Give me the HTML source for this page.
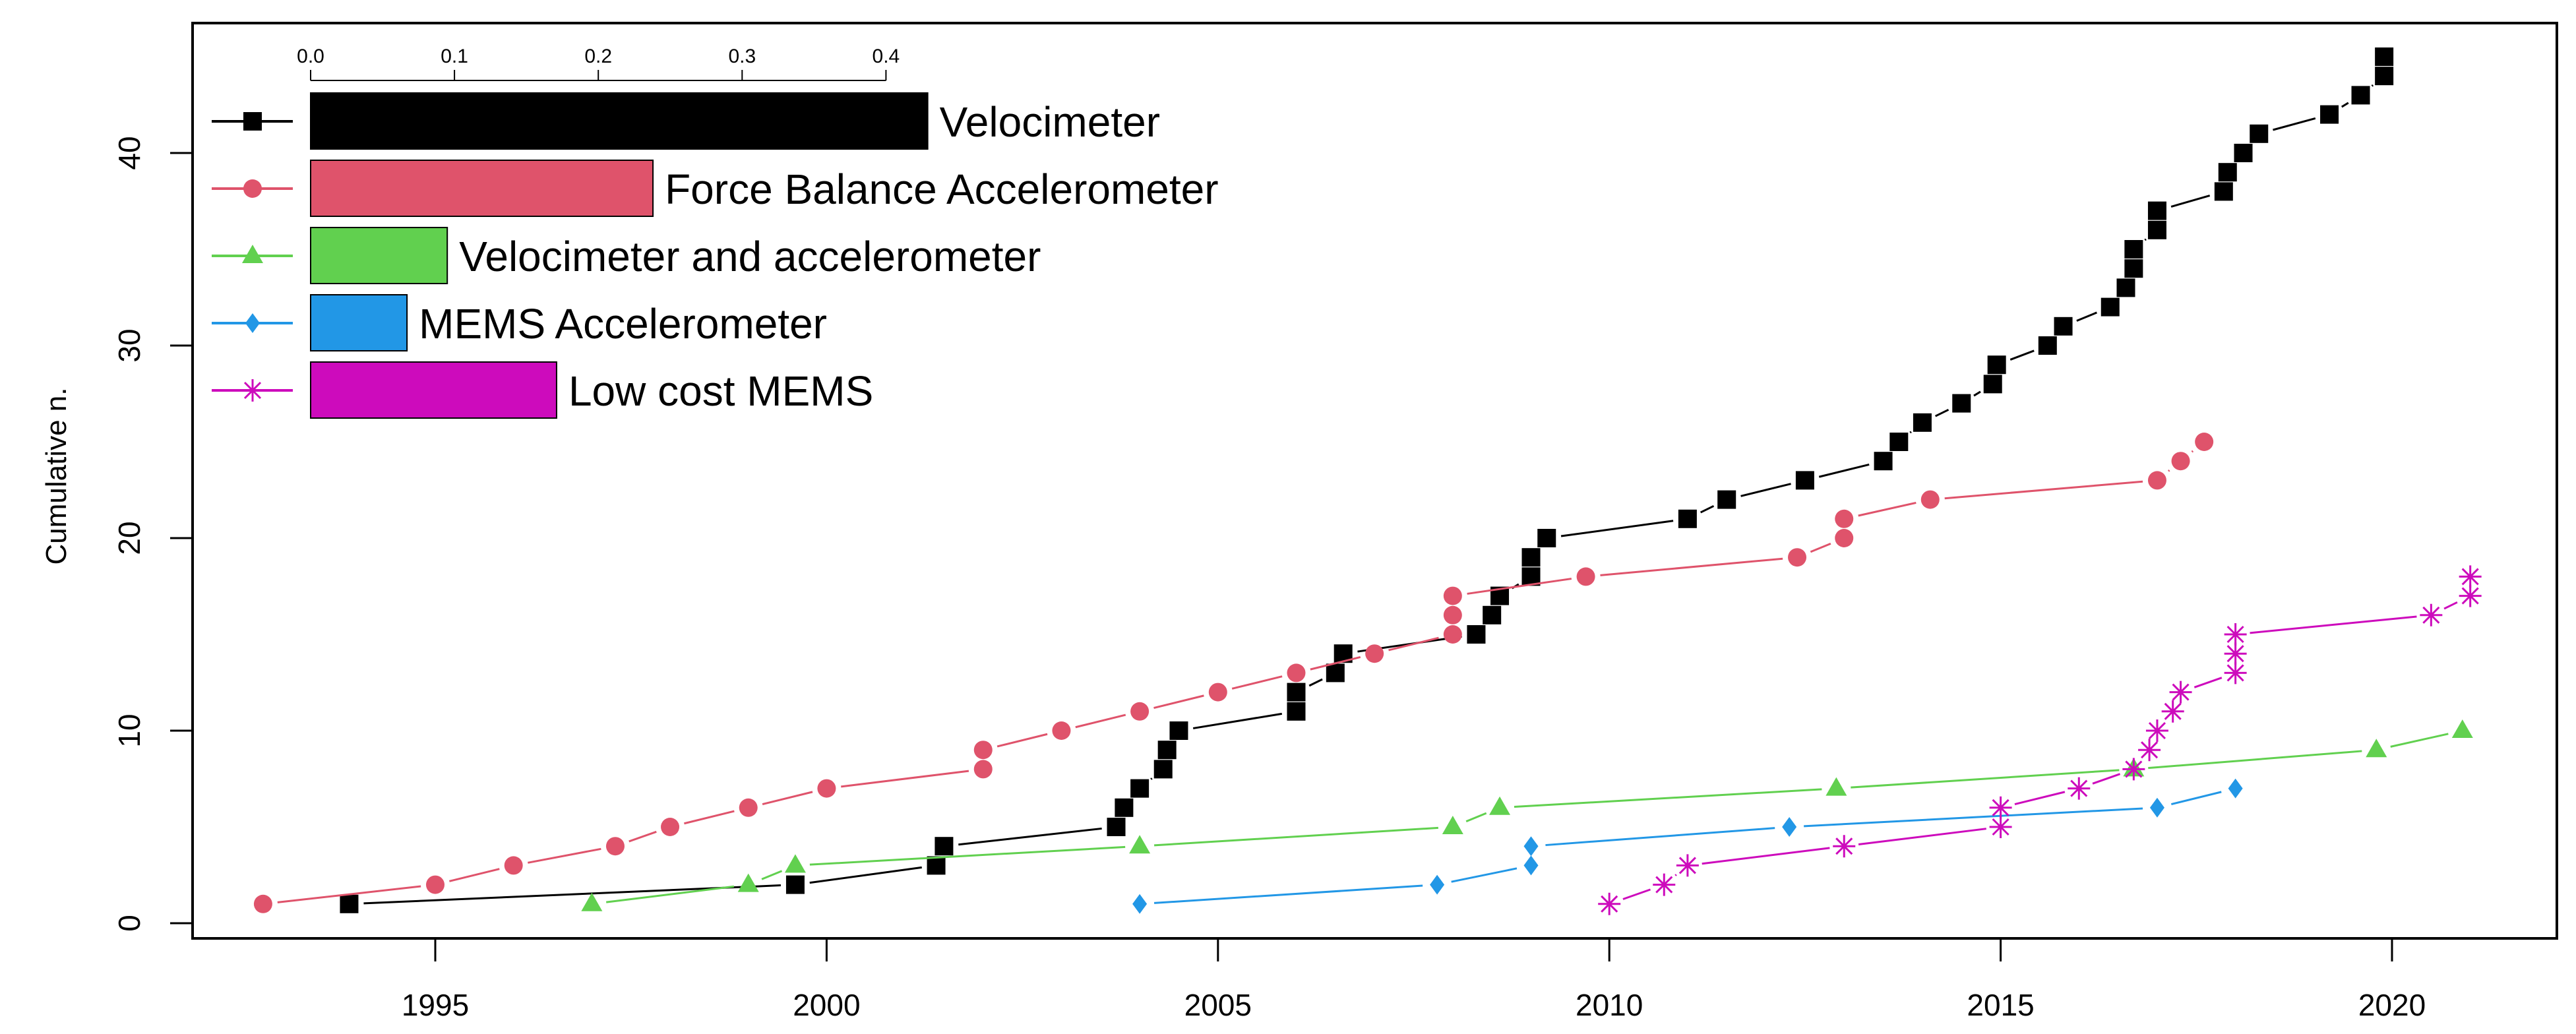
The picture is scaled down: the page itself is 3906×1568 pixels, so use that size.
<!DOCTYPE html>
<html><head><meta charset="utf-8"><style>html,body{margin:0;padding:0;background:#fff}svg{display:block}text{font-family:"Liberation Sans",sans-serif}</style></head>
<body>
<svg id="chart" width="3906" height="1568" viewBox="0 0 3906 1568" xmlns="http://www.w3.org/2000/svg">
<rect x="0" y="0" width="3906" height="1568" fill="#fff"/>
<g id="plot"></g>
<rect x="292" y="35" width="3585" height="1388" fill="none" stroke="#000" stroke-width="4"/>
<text x="0" y="0" font-size="44" text-anchor="middle" transform="translate(100,722) rotate(-90)">Cumulative n.</text>
</svg>
<script>
const xTicks = [1995, 2000, 2005, 2010, 2015, 2020];
const yTicks = [0, 10, 20, 30, 40];
const seriesNames = ["Velocimeter","Force Balance Accelerometer","Velocimeter and accelerometer","MEMS Accelerometer","Low cost MEMS"];
const shareValues = [0.429, 0.238, 0.095, 0.067, 0.171];
const shareTicks = [0.0, 0.1, 0.2, 0.3, 0.4];
const velYears = [1993.9,1999.6,2001.4,2001.5,2003.7,2003.8,2004.0,2004.3,2004.35,2004.5,2006.0,2006.0,2006.5,2006.6,2008.3,2008.5,2008.6,2009.0,2009.0,2009.2,2011.0,2011.5,2012.5,2013.5,2013.7,2014.0,2014.5,2014.9,2014.95,2015.6,2015.8,2016.4,2016.6,2016.7,2016.7,2017.0,2017.0,2017.85,2017.9,2018.1,2018.3,2019.2,2019.6,2019.9,2019.9];
const velCounts = [1,2,3,4,5,6,7,8,9,10,11,12,13,14,15,16,17,18,19,20,21,22,23,24,25,26,27,28,29,30,31,32,33,34,35,36,37,38,39,40,41,42,43,44,45];
const fbaYears = [1992.8,1995.0,1996.0,1997.3,1998.0,1999.0,2000.0,2002.0,2002.0,2003.0,2004.0,2005.0,2006.0,2007.0,2008.0,2008.0,2008.0,2009.7,2012.4,2013.0,2013.0,2014.1,2017.0,2017.3,2017.6];
const fbaCounts = [1,2,3,4,5,6,7,8,9,10,11,12,13,14,15,16,17,18,19,20,21,22,23,24,25];
const vaYears = [1997.0,1999.0,1999.6,2004.0,2008.0,2008.6,2012.9,2016.7,2019.8,2020.9];
const vaCounts = [1,2,3,4,5,6,7,8,9,10];
const memsYears = [2004.0,2007.8,2009.0,2009.0,2012.3,2017.0,2018.0];
const memsCounts = [1,2,3,4,5,6,7];
const lcYears = [2010.0,2010.7,2011.0,2013.0,2015.0,2015.0,2016.0,2016.7,2016.9,2017.0,2017.2,2017.3,2018.0,2018.0,2018.0,2020.5,2021.0,2021.0];
const lcCounts = [1,2,3,4,5,6,7,8,9,10,11,12,13,14,15,16,17,18];

const colors = ["#000000","#DF536B","#61D04F","#2297E6","#CD0BBC"];
const NS = "http://www.w3.org/2000/svg";
const svg = document.getElementById("chart");
const g = document.getElementById("plot");
const xS = y => 660 + (y - 1995) * 118.68;
const yS = v => 1400 - v * 29.2;
const shS = v => 471 + v * 2181;
function mk(tag, attrs, parent) { const e = document.createElementNS(NS, tag); for (const k in attrs) e.setAttribute(k, attrs[k]); (parent || g).appendChild(e); return e; }

xTicks.forEach(t => {
  const l = mk("line", {x1: xS(t), x2: xS(t), y1: 1423, y2: 1458, stroke: "#000", "stroke-width": 3});
  
  
  const tx = mk("text", {x: xS(t), y: 1540, "font-size": 46, "text-anchor": "middle"});
  tx.textContent = t;
  
  
});
yTicks.forEach(t => {
  const l = mk("line", {x1: 258, x2: 292, y1: yS(t), y2: yS(t), stroke: "#000", "stroke-width": 3});
  
  
  const tx = mk("text", {x: 0, y: 0, "font-size": 46, "text-anchor": "middle", transform: `translate(212,${yS(t)}) rotate(-90)`});
  tx.textContent = t;
  
  
});

function marker(type, x, y, c, parent) {
  let e;
  if (type === 0) e = mk("rect", {x: x - 14, y: y - 14, width: 28, height: 28, fill: c}, parent);
  else if (type === 1) e = mk("circle", {cx: x, cy: y, r: 14, fill: c}, parent);
  else if (type === 2) e = mk("polygon", {points: `${x},${y-17} ${x+16},${y+11} ${x-16},${y+11}`, fill: c}, parent);
  else if (type === 3) e = mk("polygon", {points: `${x},${y-15} ${x+11},${y} ${x},${y+15} ${x-11},${y}`, fill: c}, parent);
  else {
    e = mk("path", {d: `M${x-17},${y}H${x+17}M${x},${y-17}V${y+17}M${x-12},${y-12}L${x+12},${y+12}M${x-12},${y+12}L${x+12},${y-12}`, stroke: c, "stroke-width": 3, fill: "none"}, parent);
  }
  return e;
}

const allYears = [velYears, fbaYears, vaYears, memsYears, lcYears];
const allCounts = [velCounts, fbaCounts, vaCounts, memsCounts, lcCounts];
allYears.forEach((ys, s) => {
  const cs = allCounts[s];
  const grp = mk("g", {});
  
  
  for (let i = 0; i < ys.length - 1; i++) {
    const x1 = xS(ys[i]), y1 = yS(cs[i]), x2 = xS(ys[i+1]), y2 = yS(cs[i+1]);
    const d = Math.hypot(x2 - x1, y2 - y1), gap = 22;
    if (d > 2 * gap + 2) {
      const ux = (x2 - x1) / d, uy = (y2 - y1) / d;
      const l = mk("line", {x1: x1 + ux*gap, y1: y1 + uy*gap, x2: x2 - ux*gap, y2: y2 - uy*gap, stroke: colors[s], "stroke-width": 3}, grp);
      
      
    }
  }
  ys.forEach((yr, i) => {
    const m = marker(s, xS(yr), yS(cs[i]), colors[s], grp);
    
    
  });
});

const ax = mk("line", {x1: shS(0), x2: shS(0.4), y1: 122, y2: 122, stroke: "#000", "stroke-width": 2});


shareTicks.forEach(t => {
  const l = mk("line", {x1: shS(t), x2: shS(t), y1: 106, y2: 122, stroke: "#000", "stroke-width": 2});
  
  
  const tx = mk("text", {x: shS(t), y: 95, "font-size": 30, "text-anchor": "middle"});
  tx.textContent = t.toFixed(1);
  
  
});
shareValues.forEach((v, i) => {
  const top = 141 + i * 102, cy = top + 43;
  const r = mk("rect", {x: shS(0), y: top, width: shS(v) - shS(0), height: 85, fill: colors[i], stroke: "#000", "stroke-width": 2});
  
  
  const l = mk("line", {x1: 321, x2: 444, y1: cy, y2: cy, stroke: colors[i], "stroke-width": 4});
  
  
  const m = marker(i, 383, cy, colors[i]);
  
  
  const tx = mk("text", {x: shS(v) + 18, y: cy + 23, "font-size": 64});
  tx.textContent = seriesNames[i];
  
  
});
</script>
</body></html>
